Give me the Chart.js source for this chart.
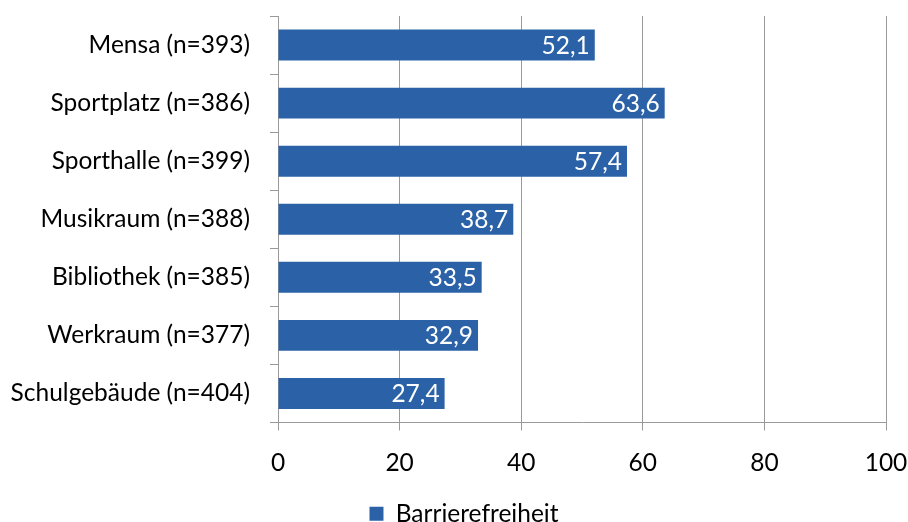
<!DOCTYPE html>
<html>
<head>
<meta charset="utf-8">
<script src="https://cdn.jsdelivr.net/npm/chart.js@4/dist/chart.umd.min.js"></script>
<style>
html,body{margin:0;padding:0;background:#fff;}
#wrap{width:908px;height:522px;}
</style>
</head>
<body>
<div id="wrap"><canvas id="c" width="908" height="522"></canvas></div>
<script>
const categories = ["Mensa (n=393)","Sportplatz (n=386)","Sporthalle (n=399)","Musikraum (n=388)","Bibliothek (n=385)","Werkraum (n=377)","Schulgebäude (n=404)"];
const barrierefreiheit = [52.1, 63.6, 57.4, 38.7, 33.5, 32.9, 27.4];
const seriesName = "Barrierefreiheit";
const xTicks = [0, 20, 40, 60, 80, 100];

const FONT = "Lato, 'Open Sans', sans-serif";
const FS = 24.5;
const BLUE = "#2B62A7";
const GRID = "#9a9a9a";

const labelPlugin = {
  id: 'barLabels',
  afterLayout(chart) {
    if (chart.legend) { chart.legend.left += 10; chart.legend.right += 10; }
  },
  afterDatasetsDraw(chart) {
    const ctx = chart.ctx;
    const meta = chart.getDatasetMeta(0);
    ctx.save();
    ctx.fillStyle = '#ffffff';
    ctx.font = FS + 'px ' + FONT;
    ctx.textAlign = 'right';
    ctx.textBaseline = 'middle';
    meta.data.forEach((bar, i) => {
      const v = chart.data.datasets[0].data[i];
      ctx.fillText(v.toFixed(1).replace('.', ','), bar.x - 5, bar.y + 1);
    });
    ctx.restore();
  }
};

new Chart(document.getElementById('c'), {
  type: 'bar',
  data: {
    labels: categories,
    datasets: [{
      label: seriesName,
      data: barrierefreiheit,
      backgroundColor: BLUE,
      borderWidth: 0,
      barPercentage: 0.533,
      categoryPercentage: 1.0
    }]
  },
  options: {
    indexAxis: 'y',
    responsive: false,
    animation: false,
    layout: { padding: { top: 16, right: 0, left: 0, bottom: -14 } },
    plugins: {
      legend: {
        position: 'bottom',
        labels: {
          font: { family: FONT, size: FS },
          color: '#000',
          boxWidth: 14,
          boxHeight: 14,
          padding: 2,
          useBorderRadius: false
        }
      },
      tooltip: { enabled: false }
    },
    scales: {
      x: {
        min: 0, max: 100,
        afterBuildTicks(scale) { scale.ticks = xTicks.map(v => ({ value: v })); },
        afterFit(scale) { scale.height = 77; scale.paddingRight = 22; scale.paddingLeft = 0; },
        ticks: { font: { family: FONT, size: FS }, color: '#000', padding: 18 },
        grid: { color: GRID, lineWidth: 1, tickLength: 8, drawTicks: true },
        border: { color: GRID, width: 1 }
      },
      y: {
        afterFit(scale) { scale.width = 278; scale.paddingTop = 0; scale.paddingBottom = 0; },
        ticks: { font: { family: FONT, size: FS }, color: '#000', padding: 20 },
        grid: { offset: true, drawOnChartArea: false, drawTicks: true, tickLength: 8, color: GRID, lineWidth: 1 },
        border: { color: GRID, width: 1 }
      }
    }
  },
  plugins: [labelPlugin]
});
</script>
</body>
</html>
